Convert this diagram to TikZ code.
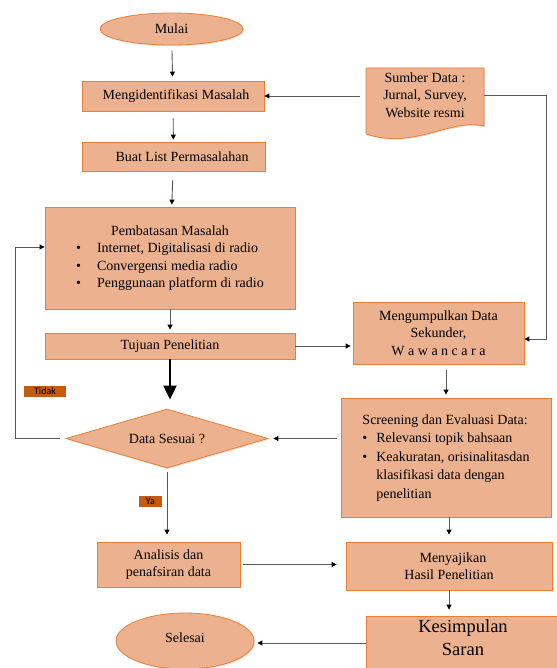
\documentclass[tikz,border=0pt]{standalone}
\usepackage{fontspec}
\setmainfont{Liberation Serif}
\newfontfamily\tagfont{Carlito}
\usetikzlibrary{positioning,arrows.meta,shapes.geometric,shadows}

\definecolor{boxfill}{HTML}{ECB18E}
\definecolor{boxline}{HTML}{ED7D31}
\definecolor{tagfill}{HTML}{C55A11}
\definecolor{linkgray}{HTML}{595959}

\begin{document}
\begin{tikzpicture}[
  x=1pt, y=-1pt,
  font=\fontsize{14}{17.5}\selectfont,
  box/.style={draw=boxline, line width=0.8pt, fill=boxfill, align=center, inner sep=2pt,
    drop shadow={shadow xshift=1.2pt, shadow yshift=-1.2pt, opacity=0.22}},
  term/.style={box, ellipse},
  check/.style={box, diamond, aspect=3.4, inner sep=0pt},
  doc/.style={draw=boxline, line width=0.8pt, fill=boxfill,
    drop shadow={shadow xshift=1.2pt, shadow yshift=-1.2pt, opacity=0.22}},
  tag/.style={fill=tagfill, text=black, font=\tagfont\fontsize{10}{11}\selectfont, inner sep=1pt, minimum height=11pt},
  arr/.style={-{Triangle[length=5pt, width=5pt, color=black]}, draw=linkgray, line width=0.9pt},
  bigarr/.style={-{Triangle[length=14pt, width=13pt]}, black, line width=2pt},
]
\fill[white] (0,0) rectangle (556,668);
\useasboundingbox (0,0) rectangle (556,668);

% ---------------- left column ----------------
\node[term, minimum width=143pt, minimum height=32pt] (mulai) at (171.5,29) {Mulai};
\node[box, minimum width=182pt, minimum height=30pt] (ident) at (173,96) {\hspace{6pt}Mengidentifikasi Masalah};
\node[box, minimum width=183pt, minimum height=29pt] (list) at (173.5,156.5) {\hspace{17pt}Buat List Permasalahan};
\node[box, minimum width=250pt, minimum height=102pt] (batas) at (170,258)
  {\begin{tabular}{@{}l@{\hspace{16pt}}l@{}}
   \multicolumn{2}{c}{Pembatasan Masalah}\\
   \textbullet & Internet, Digitalisasi di radio\\
   \textbullet & Convergensi media radio\\
   \textbullet & Penggunaan platform di radio
   \end{tabular}};
\node[box, minimum width=250pt, minimum height=26pt] (tujuan) at (170,346) {Tujuan Penelitian};
\node[check, minimum width=202pt, minimum height=59pt] (cek) at (167,438.5) {Data Sesuai ?};
\node[tag, minimum width=42pt] (tidak) at (45,391.5) {\hfill Tidak};
\node[tag, minimum width=23pt] (ya) at (150.5,501.5) {\hfill Ya};
\node[box, minimum width=143pt, minimum height=45pt] (analisis) at (168.5,564.5) {Analisis dan\\penafsiran data};
\node[term, minimum width=138pt, minimum height=56pt] (selesai) at (185,641) {Selesai\\[-10pt]\mbox{}};

% ---------------- right column ----------------
\path[doc] (366,68) -- (484,68) -- (484,126) .. controls (450,118) and (415,150) .. (366,134) -- cycle;
\node[minimum width=118pt, align=center, inner sep=0pt] (sumber) at (425,95) {Sumber Data :\\Jurnal, Survey,\\Website resmi};
\node[box, minimum width=171pt, minimum height=62pt] (kumpul) at (438.5,333)
  {Mengumpulkan Data\\Sekunder,\\W a w a n c a r a};
\node[box, minimum width=210pt, minimum height=119pt, font=\fontsize{14}{18.5}\selectfont] (screen) at (446,457.5)
  {\begin{tabular}{@{}l@{\hspace{9pt}}l@{}}
   \multicolumn{2}{@{}l@{}}{Screening dan Evaluasi Data:}\\
   \textbullet & Relevansi topik bahsaan\\
   \textbullet & Keakuratan, orisinalitasdan\\
               & klasifikasi data dengan\\
               & penelitian
   \end{tabular}};
\node[box, minimum width=206pt, minimum height=48pt] (saji) at (449,566) {\hspace{8pt}Menyajikan\\Hasil Penelitian};
\node[box, minimum width=194pt, minimum height=54pt, font=\fontsize{18.5}{23}\selectfont] (simpul) at (463,643) {Kesimpulan\\Saran\\[-13pt]\mbox{}};

% ---------------- connectors ----------------
\draw[arr, shorten <=5pt, shorten >=4pt] (mulai) -- (ident);
\draw[arr, shorten <=7pt, shorten >=2pt] (ident) -- (list);
\draw[arr, shorten <=9pt, shorten >=2pt] (list) -- (batas);
\draw[arr, shorten >=3pt] (batas) -- (tujuan);
\draw[bigarr, shorten >=9pt] (tujuan.south) -- (tujuan.south |- cek.north);
\draw[arr, shorten <=4pt, shorten >=7pt] (cek.south) -- (cek.south |- analisis.north);
\draw[arr, shorten <=6pt] (cek.west) -- ++(-50,0) |- ([yshift=11pt]batas.west);
\draw[arr, shorten <=3pt, shorten >=9pt] (analisis.east) -- (analisis.east -| saji.west);
\draw[arr, shorten >=6pt] (saji.south) -- (saji.south |- simpul.north);
\draw[arr, shorten >=3pt] (simpul.west) -- (simpul.west -| selesai.east);

\draw[arr, shorten <=6pt] (sumber.west |- ident.east) -- (ident.east);
\draw[arr] (sumber.east) -- ++(62,0) |- ([yshift=-6pt]kumpul.east);
\draw[arr, shorten >=2pt] (tujuan.east) -- (tujuan.east -| kumpul.west);
\draw[arr, shorten <=6pt, shorten >=3pt] (screen.north |- kumpul.south) -- (screen.north);
\draw[arr, shorten <=4pt, shorten >=5pt] (screen.west |- cek.east) -- (cek.east);
\draw[arr, shorten >=7pt] (saji.north |- screen.south) -- (saji.north);

\end{tikzpicture}
\end{document}
